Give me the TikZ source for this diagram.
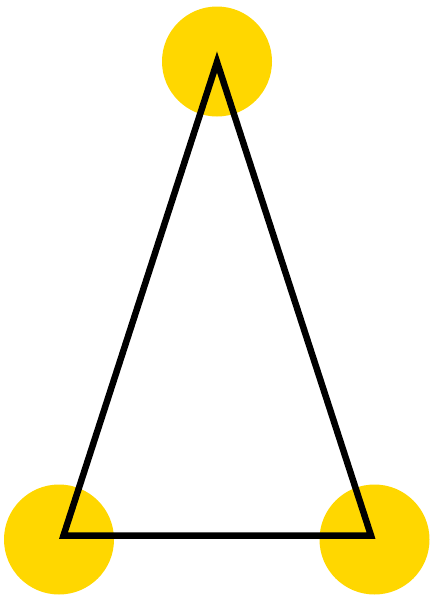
\documentclass[tikz,border=0pt]{standalone}
\usepackage{tikz}
\usetikzlibrary{positioning}
\definecolor{gold}{HTML}{FFD700}
\tikzset{
  dot/.style ={circle, fill=gold, minimum size=110pt, inner sep=0pt},
  edge/.style={line width=6.5pt, black, miter limit=10},
}

\begin{document}
\begin{tikzpicture}[x=1pt, y=-1pt]
        \useasboundingbox (0,0) rectangle (430,595);
        \node[dot] (T)  at (217,61.5)  {};
        \node[dot] (BL) at (59,539.5)  {};
        \node[dot] (BR) at (374.5,539.5) {};
        \coordinate (t)  at (217,62);
        \coordinate (bl) at (63.5,535.5);
        \coordinate (br) at (371,535.5);
        \draw[edge] (t) -- (bl) -- (br) -- cycle;
      \end{tikzpicture}
\end{document}
